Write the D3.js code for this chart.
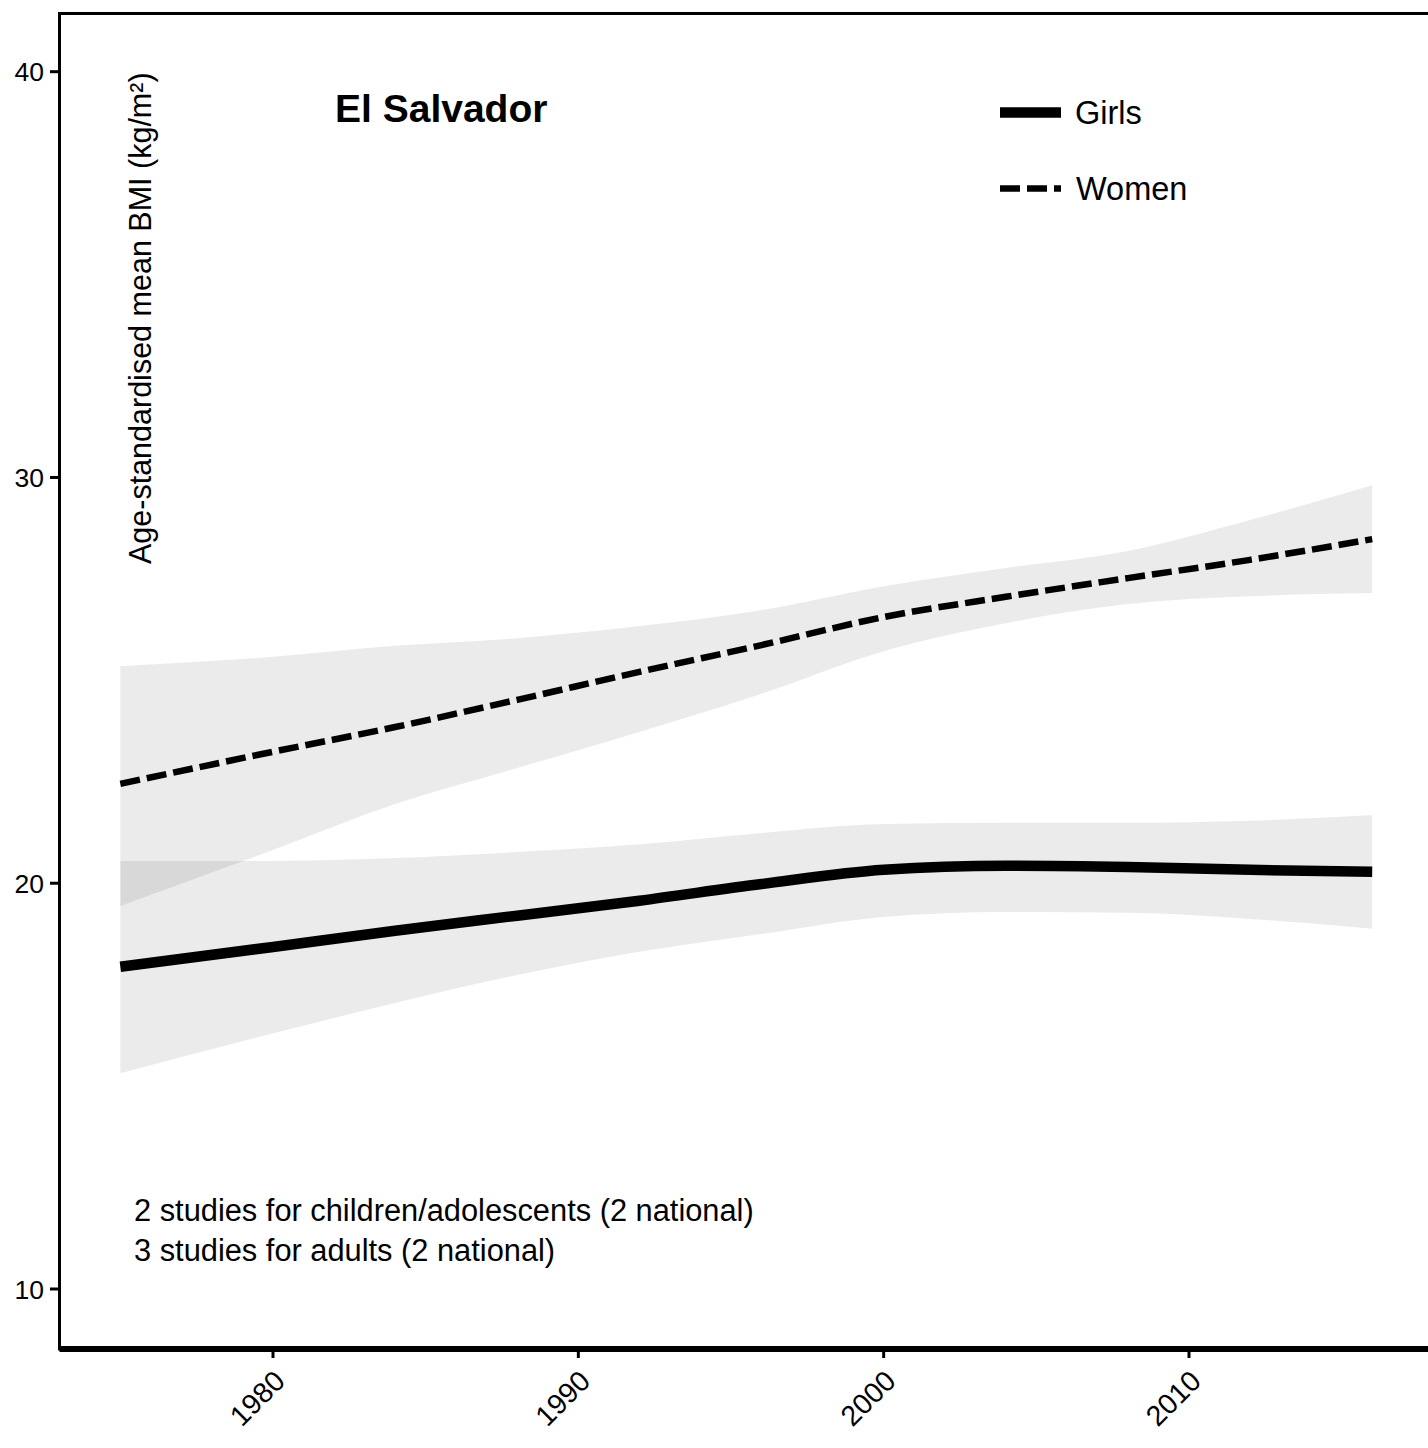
<!DOCTYPE html>
<html><head><meta charset="utf-8">
<script src="https://cdn.jsdelivr.net/npm/d3@7"></script>
<style>body{margin:0;background:#fff;} svg{display:block;} text{font-family:"Liberation Sans",Arial,Helvetica,sans-serif;fill:#000;}</style>
</head><body>
<svg id="chart" width="1428" height="1448"></svg>
<script>
const years = [1975,1980,1984,1988,1992,1996,2000,2004,2008,2012,2016];
const girlsMean = [17.94,18.43,18.83,19.20,19.57,19.98,20.33,20.43,20.40,20.33,20.28];
const girlsLow  = [15.32,16.30,17.05,17.74,18.31,18.75,19.17,19.29,19.27,19.12,18.88];
const girlsHigh = [20.55,20.55,20.62,20.77,20.96,21.24,21.46,21.49,21.49,21.54,21.68];
const womenMean = [22.45,23.24,23.85,24.52,25.21,25.87,26.56,27.06,27.52,27.97,28.48];
const womenLow  = [19.44,20.82,21.95,22.84,23.73,24.67,25.72,26.41,26.88,27.07,27.15];
const womenHigh = [25.35,25.58,25.85,26.04,26.34,26.73,27.32,27.77,28.19,28.95,29.81];
const xTicks = [1980,1990,2000,2010];
const yTicks = [10,20,30,40];
const country = "El Salvador";
const yTitle = "Age-standardised mean BMI (kg/m²)";
const legendLabels = ["Girls","Women"];
const notes = ["2 studies for children/adolescents (2 national)","3 studies for adults (2 national)"];

const svg = d3.select("#chart");
const x = d3.scaleLinear().domain([1980,2010]).range([273,1189]);
const y = d3.scaleLinear().domain([10,40]).range([1289,71.7]);
const panel = {left:59.5, top:13.5, right:1440, bottom:1349};

const rows = (m,l,h) => years.map((yr,i)=>({yr, m:m[i], l:l[i], h:h[i]}));
const girls = rows(girlsMean,girlsLow,girlsHigh);
const women = rows(womenMean,womenLow,womenHigh);

const area = d3.area().x(d=>x(d.yr)).y0(d=>y(d.l)).y1(d=>y(d.h)).curve(d3.curveMonotoneX);
const line = d3.line().x(d=>x(d.yr)).y(d=>y(d.m)).curve(d3.curveMonotoneX);

svg.append("path").datum(women).attr("d",area).attr("fill","#000").attr("fill-opacity",0.08);
svg.append("path").datum(girls).attr("d",area).attr("fill","#000").attr("fill-opacity",0.08);
svg.append("path").datum(women).attr("d",line).attr("fill","none").attr("stroke","#000")
  .attr("stroke-width",6.5).attr("stroke-dasharray","20,7");
svg.append("path").datum(girls).attr("d",line).attr("fill","none").attr("stroke","#000")
  .attr("stroke-width",10.5);

// panel border
svg.append("rect").attr("x",panel.left).attr("y",panel.top)
  .attr("width",panel.right-panel.left).attr("height",panel.bottom-panel.top)
  .attr("fill","none").attr("stroke","#000").attr("stroke-width",3);
svg.append("line").attr("x1",panel.left).attr("x2",1428).attr("y1",1349).attr("y2",1349)
  .attr("stroke","#000").attr("stroke-width",6);

// y axis
const ya = svg.append("g");
ya.selectAll("line").data(yTicks).join("line")
  .attr("x1",50).attr("x2",panel.left).attr("y1",d=>y(d)).attr("y2",d=>y(d))
  .attr("stroke","#000").attr("stroke-width",3);
ya.selectAll("text").data(yTicks).join("text")
  .attr("x",44).attr("y",d=>y(d)).attr("dy","0.36em").attr("text-anchor","end")
  .attr("font-size",26.5).text(d=>d);

// x axis
const xa = svg.append("g");
xa.selectAll("line").data(xTicks).join("line")
  .attr("x1",d=>x(d)).attr("x2",d=>x(d)).attr("y1",1352).attr("y2",1358)
  .attr("stroke","#000").attr("stroke-width",3);
xa.selectAll("text").data(xTicks).join("text")
  .attr("transform",d=>`translate(${x(d)-16},1398) rotate(-45)`)
  .attr("text-anchor","middle").attr("dy","0.36em").attr("font-size",28.5).text(d=>d);

// y title
svg.append("text").attr("transform","translate(151,564) rotate(-90)")
  .attr("text-anchor","start").attr("font-size",30.5).text(yTitle);

// country title
svg.append("text").attr("x",335).attr("y",122).attr("font-size",39)
  .attr("font-weight","bold").text(country);

// legend
svg.append("line").attr("x1",1000).attr("x2",1061).attr("y1",112.5).attr("y2",112.5)
  .attr("stroke","#000").attr("stroke-width",10.5);
svg.append("line").attr("x1",1000).attr("x2",1061).attr("y1",188.5).attr("y2",188.5)
  .attr("stroke","#000").attr("stroke-width",6.5).attr("stroke-dasharray","20,7");
svg.append("text").attr("x",1075).attr("y",124).attr("font-size",32.5).text(legendLabels[0]);
svg.append("text").attr("x",1076).attr("y",200).attr("font-size",32.5).text(legendLabels[1]);

// notes
svg.selectAll("text.note").data(notes).join("text").attr("class","note")
  .attr("x",134).attr("y",(d,i)=>1221+i*40).attr("font-size",30.8).text(d=>d);
</script>
</body></html>
